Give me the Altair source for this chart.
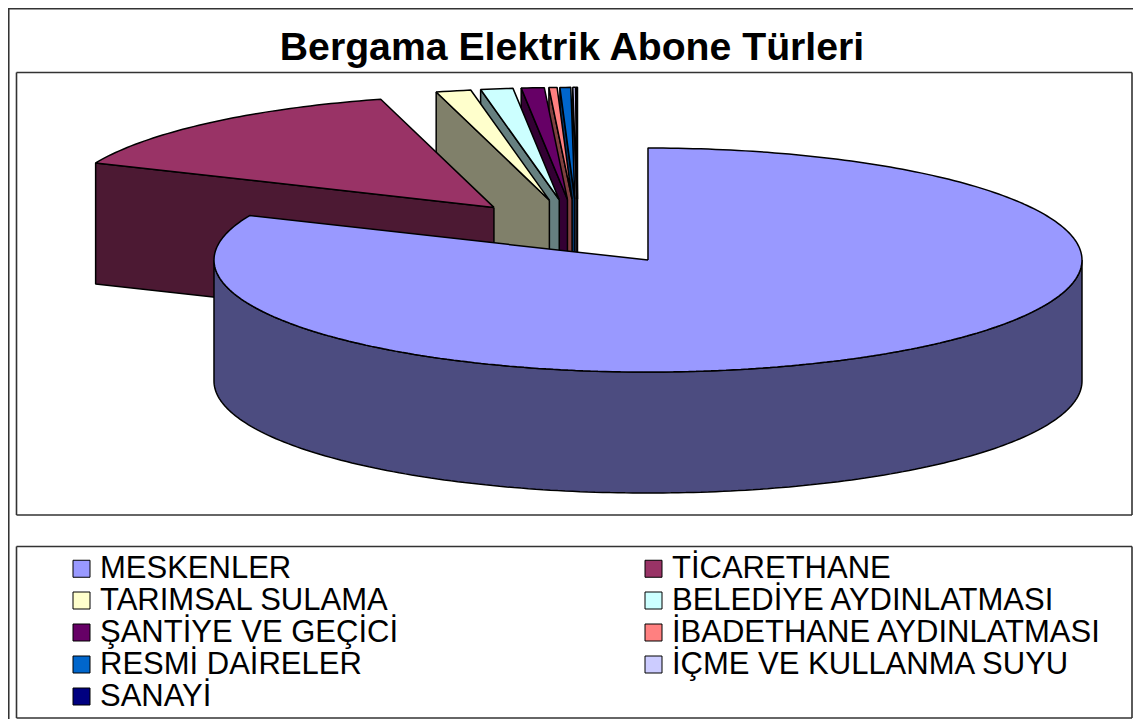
import math
import altair as alt
import pandas as pd

# ---- data ----
kategoriler = [
    "MESKENLER", "TİCARETHANE", "TARIMSAL SULAMA", "BELEDİYE AYDINLATMASI",
    "ŞANTİYE VE GEÇİCİ", "İBADETHANE AYDINLATMASI", "RESMİ DAİRELER",
    "İÇME VE KULLANMA SUYU", "SANAYİ",
]
paylar = [81.5, 14.3, 1.3, 1.2, 0.85, 0.3, 0.4, 0.1, 0.05]

# ---- styles ----
ust_renkler = ["#9999FF", "#993366", "#FFFFCC", "#CCFFFF", "#660066",
               "#FF8080", "#0066CC", "#CCCCFF", "#000080"]
yan_renkler = ["#4C4C80", "#4C1933", "#80806A", "#668080", "#330033",
               "#804040", "#003366", "#66667F", "#000040"]
baslik = "Bergama Elektrik Abone Türleri"
FONT = "Liberation Sans, Arial, sans-serif"

# ---- 3D pie geometry (page pixel space) ----
CX, CY = 577.7, 232.4
RX, RY = 434.0, 112.0
DEPTH = 121.0
EXPLODE = 0.295

toplam = sum(paylar)
dilimler = []
ang = 90.0
for i, (k, v) in enumerate(zip(kategoriler, paylar)):
    sweep = 360.0 * v / toplam
    s, t = ang, ang - sweep
    ang = t
    m = math.radians((s + t) / 2)
    dilimler.append(dict(i=i, k=k, s=s, t=t,
                         vx=CX + EXPLODE * RX * math.cos(m),
                         vy=CY - EXPLODE * RY * math.sin(m),
                         d=math.sin(m)))


def P(sl, deg, down=0.0):
    r = math.radians(deg)
    return (sl["vx"] + RX * math.cos(r), sl["vy"] - RY * math.sin(r) + down)


def arc(sl, a0, a1, down=0.0):
    n = max(2, int(math.ceil(abs(a0 - a1) / 1.0)) + 1)
    return [P(sl, a0 + (a1 - a0) * j / (n - 1), down) for j in range(n)]


sira = sorted(dilimler, key=lambda d: -d["d"])  # back to front

side_rows, top_rows = [], []
pid = [0]


def add(rows, pts, sl, color):
    pts = pts + [pts[0]]
    name = "p%03d" % pid[0]
    pid[0] += 1
    for j, (x, y) in enumerate(pts):
        rows.append(dict(pid=name, o=j, x=x, y=y, renk=color, kategori=sl["k"]))


for sl in sira:
    V = (sl["vx"], sl["vy"])
    Vd = (sl["vx"], sl["vy"] + DEPTH)
    col = yan_renkler[sl["i"]]
    s, t = sl["s"], sl["t"]
    if math.cos(math.radians(s)) < -1e-9:
        add(side_rows, [V, P(sl, s), P(sl, s, DEPTH), Vd], sl, col)
    if math.cos(math.radians(t)) > 1e-9:
        add(side_rows, [V, P(sl, t), P(sl, t, DEPTH), Vd], sl, col)
    for kk in range(-2, 2):
        lo, hi = -180.0 + 360 * kk, 0.0 + 360 * kk
        a, b = max(t, lo), min(s, hi)
        if b > a:
            add(side_rows, arc(sl, b, a) + arc(sl, a, b, DEPTH), sl, col)

for sl in sira:
    V = (sl["vx"], sl["vy"])
    add(top_rows, [V] + arc(sl, sl["s"], sl["t"]), sl, ust_renkler[sl["i"]])

df_side = pd.DataFrame(side_rows)
df_top = pd.DataFrame(top_rows)

W, H = 1125, 711
xs = alt.Scale(domain=[8, 8 + W], nice=False, zero=False)
ys = alt.Scale(domain=[8, 8 + H], nice=False, zero=False, reverse=True)
X = alt.X("x:Q", scale=xs, axis=None)
Y = alt.Y("y:Q", scale=ys, axis=None)

sides = alt.Chart(df_side).mark_line(
    filled=True, stroke="black", strokeWidth=1.5, strokeJoin="bevel"
).encode(x=X, y=Y, detail="pid:N", order="o:Q",
         fill=alt.Fill("renk:N", scale=None))

tops = alt.Chart(df_top).mark_line(
    filled=True, stroke="black", strokeWidth=1.5, strokeJoin="bevel"
).encode(
    x=X, y=Y, detail="pid:N", order="o:Q",
    fill=alt.Fill(
        "kategori:N",
        scale=alt.Scale(domain=kategoriler, range=ust_renkler),
        legend=alt.Legend(
            title=None, orient="none", legendX=58, legendY=545,
            direction="horizontal",
            columns=2, columnPadding=239, rowPadding=0, padding=0,
            symbolType="square", symbolSize=289,
            symbolStrokeColor="black", symbolStrokeWidth=1,
            labelFont=FONT, labelFontSize=31, labelColor="black",
            labelOffset=3, labelLimit=700,
        ),
    ),
)

# frame lines (plot area box, legend box, outer border)
cerceve = pd.DataFrame([
    dict(x=8.75, x2=8.75, y=8, y2=719),
    dict(x=8, x2=1133, y=8.75, y2=8.75),
    dict(x=16.5, x2=1132, y=72.5, y2=72.5),
    dict(x=16.5, x2=16.5, y=72.5, y2=515),
    dict(x=16.5, x2=1132, y=515, y2=515),
    dict(x=1132, x2=1132, y=72.5, y2=515),
    dict(x=16.5, x2=1132, y=546.5, y2=546.5),
    dict(x=16.5, x2=16.5, y=546.5, y2=718),
    dict(x=16.5, x2=1132, y=718, y2=718),
    dict(x=1132, x2=1132, y=546.5, y2=718),
])
frame = alt.Chart(cerceve).mark_rule(color="#333333", strokeWidth=1.6).encode(
    x=X, y=Y, x2="x2:Q", y2="y2:Q")

title = alt.Chart(pd.DataFrame([dict(x=572, y=59.5, t=baslik)])).mark_text(
    font=FONT, fontSize=39.2, fontWeight="bold", color="black",
    align="center", baseline="alphabetic"
).encode(x=X, y=Y, text="t:N")

chart = alt.layer(frame, sides, tops, title).resolve_scale(
    fill="independent"
).properties(
    width=W, height=H, padding=0,
    autosize=alt.AutoSizeParams(type="none"),
).configure_view(strokeWidth=0)

chart.save("out.html", embed_options={"renderer": "svg", "actions": False})
